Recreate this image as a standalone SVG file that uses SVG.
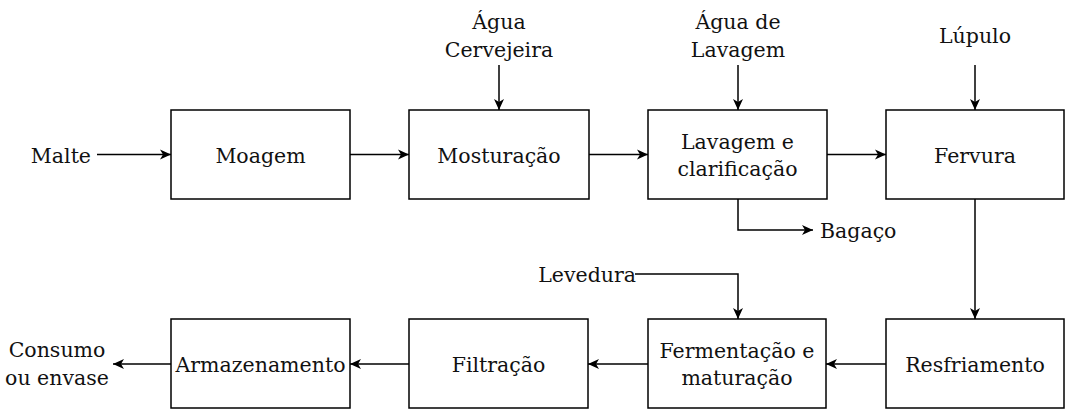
<svg xmlns="http://www.w3.org/2000/svg" width="1065" height="409" viewBox="0 0 1065 409">
<style>
.box{fill:#fff;stroke:#000;stroke-width:1.5}
text{font-size:20.5px;fill:#111}
.t{text-anchor:middle}
.e{text-anchor:end}
.c{fill:none;stroke:#000;stroke-width:1.5;marker-end:url(#arr)}
</style>
<defs>
<marker id="arr" markerUnits="userSpaceOnUse" markerWidth="12" markerHeight="12" viewBox="0 0 12 12" refX="11" refY="6" orient="auto">
<path d="M0,1 L11,6 L0,11 L3,6 z" fill="#000"/>
</marker>
</defs>
<rect width="1065" height="409" fill="#fff"/>
<g id="connectors">
<path class="c" d="M97,154.5 H171"/>
<path class="c" d="M350,154.5 H409"/>
<path class="c" d="M589,154.5 H648"/>
<path class="c" d="M827,154.5 H886"/>
<path class="c" d="M499,65 V110"/>
<path class="c" d="M738,65 V110"/>
<path class="c" d="M975,65 V110"/>
<path class="c" d="M738,199 V230 H813"/>
<path class="c" d="M975,199 V319"/>
<path class="c" d="M635,274 H738 V319"/>
<path class="c" d="M886,364 H826"/>
<path class="c" d="M648,364 H588"/>
<path class="c" d="M409,364 H350"/>
<path class="c" d="M171,364 H113"/>
</g>
<g font-family="DejaVu Serif, serif">
<g id="malte"><text class="e" x="91" y="163">Malte</text></g>
<g id="agua-cervejeira"><text class="t" x="499" y="29">Água</text><text class="t" x="499" y="57">Cervejeira</text></g>
<g id="agua-lavagem"><text class="t" x="738" y="29">Água de</text><text class="t" x="738" y="57">Lavagem</text></g>
<g id="lupulo"><text class="t" x="975" y="43">Lúpulo</text></g>
<g id="bagaco"><text x="820" y="238">Bagaço</text></g>
<g id="levedura"><text class="e" x="636" y="282">Levedura</text></g>
<g id="consumo"><text class="t" x="57" y="357">Consumo</text><text class="t" x="57" y="385">ou envase</text></g>
<g id="moagem"><rect class="box" x="171" y="110" width="179" height="89"/><text class="t" x="260.5" y="163">Moagem</text></g>
<g id="mosturacao"><rect class="box" x="409" y="110" width="180" height="89"/><text class="t" x="499" y="163">Mosturação</text></g>
<g id="lavagem"><rect class="box" x="648" y="110" width="179" height="89"/><text class="t" x="737.5" y="149">Lavagem e</text><text class="t" x="737.5" y="176">clarificação</text></g>
<g id="fervura"><rect class="box" x="886" y="110" width="178" height="89"/><text class="t" x="975" y="163">Fervura</text></g>
<g id="resfriamento"><rect class="box" x="886" y="319" width="178" height="89"/><text class="t" x="975" y="372">Resfriamento</text></g>
<g id="fermentacao"><rect class="box" x="648" y="319" width="178" height="89"/><text class="t" x="737" y="358">Fermentação e</text><text class="t" x="737" y="385">maturação</text></g>
<g id="filtracao"><rect class="box" x="409" y="319" width="179" height="89"/><text class="t" x="498.5" y="372">Filtração</text></g>
<g id="armazenamento"><rect class="box" x="171" y="319" width="179" height="89"/><text class="t" x="260.5" y="372">Armazenamento</text></g>
</g>
</svg>
